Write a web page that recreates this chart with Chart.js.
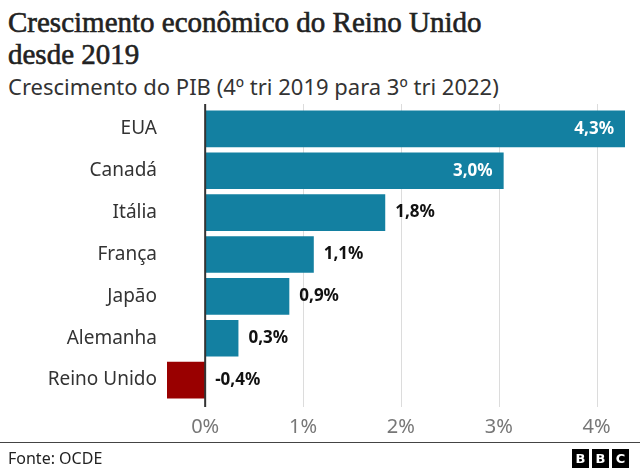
<!DOCTYPE html>
<html><head><meta charset="utf-8">
<script src="https://cdn.jsdelivr.net/npm/chart.js@4"></script>
<style>
body{margin:0;width:640px;height:472px;background:#fff;overflow:hidden;position:relative;font-family:"Noto Sans",sans-serif;}
#title{position:absolute;left:8px;top:6px;font-family:"Liberation Serif",serif;font-weight:normal;font-size:29px;line-height:32px;color:#222;white-space:nowrap;-webkit-text-stroke:0.6px #222;}
#sub{position:absolute;left:8px;top:74px;font-size:22px;line-height:24px;color:#333;white-space:nowrap;}
#wrap{position:absolute;left:0;top:100px;width:640px;height:345px;}
#foot{position:absolute;left:0;top:442px;width:640px;height:30px;border-top:1px solid #444;}
#src{position:absolute;left:8px;top:4px;font-size:16px;color:#222;}
#logo{position:absolute;right:11px;top:6px;display:flex;gap:3px;}
#logo span{display:block;width:17px;height:19px;background:#000;color:#fff;font:bold 13px "DejaVu Sans",sans-serif;line-height:19px;text-align:center;}
</style></head>
<body>
<div id="title">Crescimento econômico do Reino Unido<br>desde 2019</div>
<div id="sub">Crescimento do PIB (4º tri 2019 para 3º tri 2022)</div>
<div id="wrap"><canvas id="c"></canvas></div>
<div id="foot"><div id="src">Fonte: OCDE</div><div id="logo"><span>B</span><span>B</span><span>C</span></div></div>
<script>
const categories = ["EUA","Canadá","Itália","França","Japão","Alemanha","Reino Unido"];
const growth = [4.29, 3.05, 1.84, 1.11, 0.86, 0.34, -0.39];
const valueLabels = ["4,3%","3,0%","1,8%","1,1%","0,9%","0,3%","-0,4%"];
const xTicks = [0, 1, 2, 3, 4];
const xTickLabels = ["0%","1%","2%","3%","4%"];

const gridPlugin = {
  id: 'gridPlugin',
  beforeDatasetsDraw(chart) {
    const {ctx, chartArea, scales} = chart;
    ctx.save();
    ctx.strokeStyle = '#dcdcdc';
    ctx.lineWidth = 1;
    xTicks.forEach(v => {
      if (v === 0) return;
      const x = Math.round(scales.x.getPixelForValue(v)) + 0.5;
      ctx.beginPath();
      ctx.moveTo(x, chartArea.top - 4);
      ctx.lineTo(x, chartArea.bottom + 6);
      ctx.stroke();
    });
    ctx.restore();
  },
  afterDatasetsDraw(chart) {
    const {ctx, chartArea, scales} = chart;
    ctx.save();
    const x0 = scales.x.getPixelForValue(0);
    ctx.strokeStyle = '#333';
    ctx.lineWidth = 2;
    ctx.beginPath();
    ctx.moveTo(x0, chartArea.top - 4);
    ctx.lineTo(x0, chartArea.bottom + 6);
    ctx.stroke();
    const meta = chart.getDatasetMeta(0);
    ctx.font = 'bold 17px "Noto Sans"';
    ctx.textBaseline = 'middle';
    meta.data.forEach((bar, i) => {
      const v = growth[i];
      if (v > 2.5) {
        ctx.fillStyle = '#fff';
        ctx.textAlign = 'right';
        ctx.fillText(valueLabels[i], bar.x - 11, bar.y);
      } else {
        ctx.fillStyle = '#111';
        ctx.textAlign = 'left';
        const x = v < 0 ? x0 + 10 : bar.x + 10;
        ctx.fillText(valueLabels[i], x, bar.y);
      }
    });
    ctx.restore();
  }
};

new Chart(document.getElementById('c'), {
  type: 'bar',
  data: {
    labels: categories,
    datasets: [{
      data: growth,
      backgroundColor: ctx => growth[ctx.dataIndex] < 0 ? '#990000' : '#1380A1',
      borderWidth: 0,
      barPercentage: 0.875,
      categoryPercentage: 1
    }]
  },
  options: {
    indexAxis: 'y',
    responsive: true,
    maintainAspectRatio: false,
    animation: false,
    layout: {padding: {top: 8, right: 15, left: 0, bottom: 0}},
    plugins: {legend: {display: false}, tooltip: {enabled: false}},
    scales: {
      x: {
        type: 'linear',
        min: -0.39,
        max: 4.29,
        afterBuildTicks: s => { s.ticks = xTicks.map(v => ({value: v})); },
        afterFit: s => { s.height = 44; s.paddingLeft = 0; s.paddingRight = 0; },
        ticks: {
          callback: v => xTickLabels[xTicks.indexOf(v)],
          color: '#777',
          font: {family: '"Noto Sans"', size: 20},
          padding: 14,
          maxRotation: 0
        },
        grid: {display: false, drawTicks: false},
        border: {display: false}
      },
      y: {
        afterFit: s => { s.width = 167; s.paddingTop = 0; s.paddingBottom = 0; },
        ticks: {
          color: '#333',
          font: {family: '"Noto Sans"', size: 19},
          padding: 10
        },
        grid: {display: false, drawTicks: false},
        border: {display: false}
      }
    }
  },
  plugins: [gridPlugin]
});
</script>
</body></html>
